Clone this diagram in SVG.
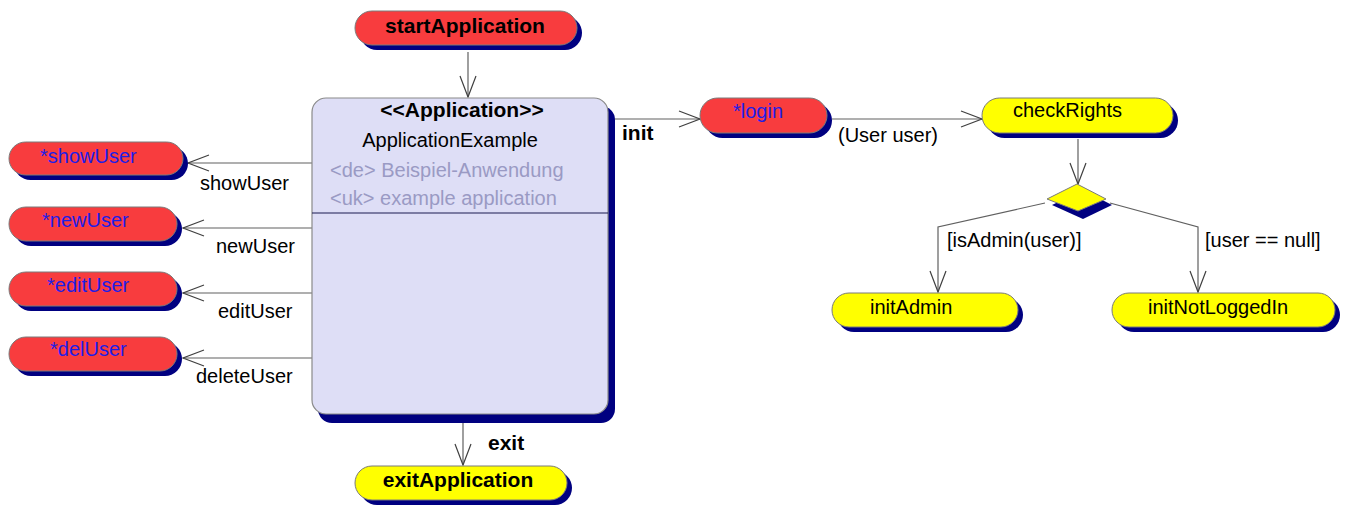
<svg xmlns="http://www.w3.org/2000/svg" width="1351" height="506" viewBox="0 0 1351 506">
  <style>
    text { font-family: "Liberation Sans", Arial, sans-serif; font-size: 20px; fill: #000; }
    .bold { font-weight: bold; font-size: 21px; }
    .ref { fill: #1e1ee6; }
    .note { fill: #9a9ac4; }
    .mid { text-anchor: middle; }
    .shadow { fill: #000080; }
    .red { fill: #f83c3e; stroke: #7a7a7a; stroke-width: 1; }
    .yellow { fill: #ffff00; stroke: #7a7a7a; stroke-width: 1; }
    .conn { fill: none; stroke: #606060; stroke-width: 1.2; marker-end: url(#arrow); }
  </style>
  <defs>
    <marker id="arrow" viewBox="-22 -10 24 20" refX="0" refY="0" markerWidth="24" markerHeight="20" markerUnits="userSpaceOnUse" orient="auto">
      <path d="M-21,-8 L0,0 L-21,8" fill="none" stroke="#404040" stroke-width="1.2"/>
    </marker>
  </defs>

  <rect width="1351" height="506" fill="#ffffff"/>

  <!-- connectors -->
  <g id="connectors">
    <path class="conn" d="M468,52 V97"/>
    <path class="conn" d="M312,163 H188"/>
    <path class="conn" d="M312,228 H183"/>
    <path class="conn" d="M312,293 H183"/>
    <path class="conn" d="M312,358 H183"/>
    <path class="conn" d="M463,423 V465"/>
    <path class="conn" d="M613,119 H700"/>
    <path class="conn" d="M832,119 H982"/>
    <path class="conn" d="M1078,139 V184"/>
    <path class="conn" d="M1045,203 L938,227 V292"/>
    <path class="conn" d="M1110,203 L1198,227 V292"/>
    <text x="200" y="190">showUser</text>
    <text x="216" y="253">newUser</text>
    <text x="218" y="318">editUser</text>
    <text x="196" y="383">deleteUser</text>
    <text class="bold" x="488" y="450">exit</text>
    <text class="bold" x="622" y="140">init</text>
    <text x="838" y="142">(User user)</text>
    <text x="947" y="247">[isAdmin(user)]</text>
    <text x="1205" y="247">[user == null]</text>
  </g>

  <!-- start state -->
  <g id="startApplication">
    <rect class="shadow" x="360" y="16" width="222" height="34" rx="17"/>
    <rect class="red" x="355" y="11" width="222" height="34" rx="17"/>
    <text class="bold mid" x="465" y="33">startApplication</text>
  </g>

  <!-- application container -->
  <g id="ApplicationExample">
    <rect class="shadow" x="318" y="106" width="297" height="317" rx="14"/>
    <rect x="312" y="98" width="296" height="316" rx="14" fill="#dedef6" stroke="#8a8a8a" stroke-width="1.2"/>
    <line x1="312" y1="213" x2="608" y2="213" stroke="#1a1a50" stroke-width="1.2"/>
    <text class="bold mid" x="462" y="117">&lt;&lt;Application&gt;&gt;</text>
    <text class="mid" x="450" y="147">ApplicationExample</text>
    <text class="note" x="330" y="177">&lt;de&gt; Beispiel-Anwendung</text>
    <text class="note" x="330" y="205">&lt;uk&gt; example application</text>
  </g>

  <!-- sub states on the left -->
  <g id="showUser">
    <rect class="shadow" x="14" y="147" width="174" height="33" rx="16.5"/>
    <rect class="red" x="9" y="142" width="174" height="33" rx="16.5"/>
    <text class="ref" x="40" y="163">*showUser</text>
  </g>
  <g id="newUser">
    <rect class="shadow" x="14" y="212" width="168" height="34" rx="17"/>
    <rect class="red" x="9" y="207" width="168" height="34" rx="17"/>
    <text class="ref" x="42" y="227">*newUser</text>
  </g>
  <g id="editUser">
    <rect class="shadow" x="14" y="277" width="168" height="34" rx="17"/>
    <rect class="red" x="9" y="272" width="168" height="34" rx="17"/>
    <text class="ref" x="47" y="292">*editUser</text>
  </g>
  <g id="delUser">
    <rect class="shadow" x="14" y="342" width="168" height="34" rx="17"/>
    <rect class="red" x="9" y="337" width="168" height="34" rx="17"/>
    <text class="ref" x="50" y="356">*delUser</text>
  </g>

  <!-- exit state -->
  <g id="exitApplication">
    <rect class="shadow" x="360" y="471" width="212" height="34" rx="17"/>
    <rect class="yellow" x="355" y="466" width="212" height="34" rx="17"/>
    <text class="bold mid" x="458" y="487">exitApplication</text>
  </g>

  <!-- login flow -->
  <g id="login">
    <rect class="shadow" x="705" y="103" width="127" height="35" rx="17.5"/>
    <rect class="red" x="700" y="98" width="127" height="35" rx="17.5"/>
    <text class="ref" x="733" y="118">*login</text>
  </g>
  <g id="checkRights">
    <rect class="shadow" x="987" y="103" width="191" height="35" rx="17.5"/>
    <rect class="yellow" x="982" y="98" width="191" height="35" rx="17.5"/>
    <text x="1013" y="117">checkRights</text>
  </g>
  <g id="decision">
    <polygon class="shadow" points="1083,190 1112,205 1083,219 1052,205"/>
    <polygon class="yellow" points="1077,184 1106,199 1078,211 1047,199"/>
  </g>
  <g id="initAdmin">
    <rect class="shadow" x="837" y="298" width="186" height="34" rx="17"/>
    <rect class="yellow" x="832" y="293" width="186" height="34" rx="17"/>
    <text x="870" y="314">initAdmin</text>
  </g>
  <g id="initNotLoggedIn">
    <rect class="shadow" x="1117" y="298" width="223" height="34" rx="17"/>
    <rect class="yellow" x="1112" y="293" width="223" height="34" rx="17"/>
    <text x="1148" y="314">initNotLoggedIn</text>
  </g>
</svg>
